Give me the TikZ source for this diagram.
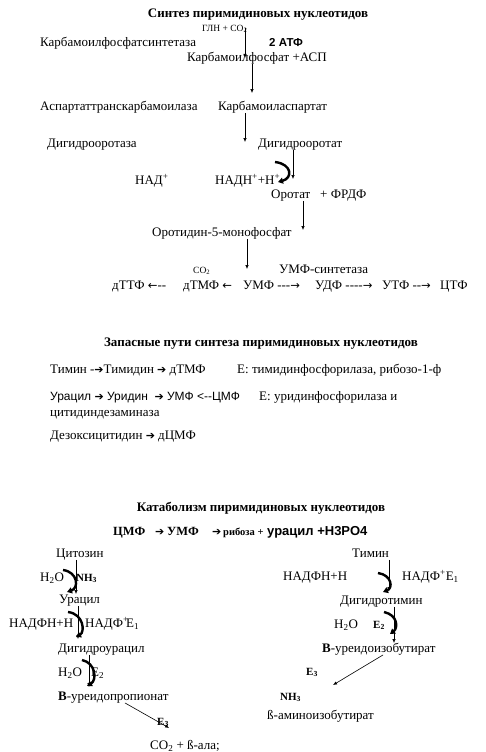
\documentclass[tikz,border=0pt]{standalone}
\usepackage{fontspec}
\newfontfamily\tnr{Liberation Serif}
\newfontfamily\arl{Liberation Sans}
\newfontfamily\dvs{DejaVu Sans}
\newcommand\pr{{\dvs\fontsize{11.5}{12}\selectfont →}}
\newcommand\lv{{\dvs\fontsize{11.5}{12}\selectfont ←}}
\newcommand\tpr{{\dvs\fontsize{11}{12}\selectfont ➔}}
\usetikzlibrary{arrows.meta,calc}
\tikzset{
  tx/.style={anchor=west,inner sep=0pt,text height=9pt,text depth=2.5pt,
    font=\tnr\fontsize{13}{14}\selectfont},
  ax/.style={tx,font=\arl\fontsize{12}{14}\selectfont},
  mal/.style={tx,font=\tnr\fontsize{9.5}{10}\selectfont},
  zag/.style={inner sep=0pt,font=\tnr\fontsize{13}{14}\selectfont\bfseries},
  bx/.style={tx,font=\tnr\bfseries\fontsize{11}{12}\selectfont},
  strel/.style={-{Latex[length=4pt,width=3.4pt]},line width=0.6pt},
  dug/.style={line width=2.4pt,-{Triangle[length=5pt,width=6pt]}},
}

\begin{document}
\begin{tikzpicture}[x=1pt,y=-1pt]
  \useasboundingbox (0,0) rectangle (485,752);
  % sintez
  \node[zag] (t1) at (258,15) {Синтез пиримидиновых нуклеотидов};
  \node[mal] (gln) at (202,28) {ГЛН + СО\textsubscript{2}};
  \node[tx] (kfs) at (40,43) {Карбамоилфосфатсинтетаза};
  \node[ax,font=\arl\bfseries\fontsize{11.5}{14}\selectfont] (atf) at (269,43) {2 АТФ};
  \node[tx] (kf) at (187,58) {Карбамоилфосфат +АСП};
  \node[tx] (atk) at (40,107) {Аспартаттранскарбамоилаза};
  \node[tx] (kasp) at (218,107) {Карбамоиласпартат};
  \node[tx] (dgo) at (47,144) {Дигидрооротаза};
  \node[tx] (dgot) at (258,144) {Дигидрооротат};
  \node[tx] (nad) at (135,181) {НАД\textsuperscript{+}};
  \node[tx] (nadh) at (215,181) {НАДН\textsuperscript{+}+Н\textsuperscript{+}};
  \node[tx] (orot) at (271,195) {Оротат};
  \node[tx] (frdf) at (320,195) {+ ФРДФ};
  \node[tx] (omf) at (152,233) {Оротидин-5-монофосфат};
  \node[mal] (co2) at (193,270) {СО\textsubscript{2}};
  \node[tx] (umfs) at (279,270) {УМФ-синтетаза};
  \node[tx] (dttf) at (112,286) {дТТФ \lv--};
  \node[tx] (dtmf) at (183,286) {дТМФ \lv};
  \node[tx] (umf) at (243,286) {УМФ ---\pr};
  \node[tx] (udf) at (315,286) {УДФ ----\pr};
  \node[tx] (utf) at (382,286) {УТФ --\pr};
  \node[tx] (ctf) at (440,286) {ЦТФ};
  \draw[strel] (gln -| 245,0) -- (kf -| 245,0);
  \draw[strel,shorten >=8pt] (kf.south -| 252,0) -- (kasp.north -| 252,0);
  \draw[strel,shorten >=-4pt] (kasp.south -| 245,0) -- (dgot.north -| 245,0);
  \draw[strel,shorten >=10pt] (dgot.south -| 293,0) -- (orot.north -| 293,0);
  \draw[strel,shorten >=-3pt] (orot.south -| 303,0) -- (omf.north -| 303,0);
  \draw[strel,shorten >=11pt] (omf.south -| 247,0) -- (umf.north -| 247,0);
  \draw[dug] (275,162) .. controls (292,164) and (293,178) .. (278,182);
  % zapasnye puti
  \node[zag] (t2) at (261,344) {Запасные пути синтеза пиримидиновых нуклеотидов};
  \node[tx] (z1) at (50,370) {Тимин -\tpr Тимидин \tpr\ дТМФ};
  \node[tx] (e1) at (237,370) {Е: тимидинфосфорилаза, рибозо-1-ф};
  \node[ax] (z2) at (50,397) {Урацил \tpr\ Уридин \ \tpr\ УМФ <--ЦМФ};
  \node[tx] (e2) at (259,397) {Е: уридинфосфорилаза и};
  \node[tx] (e2b) at (50,413) {цитидиндезаминаза};
  \node[tx] (z3) at (50,436) {Дезоксицитидин \tpr\ дЦМФ};
  % katabolizm
  \node[zag] (t3) at (261,508) {Катаболизм пиримидиновых нуклеотидов};
  \node[bx,font=\tnr\bfseries\fontsize{12.5}{14}\selectfont] (cmf) at (113,532) {ЦМФ};
  \node[bx] (s1) at (155,532) {\tpr};
  \node[bx,font=\tnr\bfseries\fontsize{12.5}{14}\selectfont] (umfk) at (167,532) {УМФ};
  \node[bx] (s2) at (212,532) {\tpr};
  \node[bx,font=\tnr\bfseries\fontsize{10.5}{12}\selectfont] (rib) at (223,532) {рибоза +};
  \node[ax,font=\arl\bfseries\fontsize{13}{14}\selectfont] (k2) at (267,532) {урацил +Н3РО4};
  \node[tx] (cyt) at (56,554) {Цитозин};
  \node[tx] (h2o1) at (40,578) {Н\textsubscript{2}О};
  \node[bx] (nh3a) at (76,578) {NH\textsubscript{3}};
  \node[tx] (urac) at (59,600) {Урацил};
  \node[tx] (nf1) at (9,624) {НАДФН+Н};
  \node[tx] (nfp1) at (85,624) {НАДФ\textsuperscript{+}};
  \node[tx] (ea1) at (126,624) {Е\textsubscript{1}};
  \node[tx] (dgu) at (58,649) {Дигидроурацил};
  \node[tx] (h2o2) at (58,673) {Н\textsubscript{2}О};
  \node[tx] (ea2) at (91,673) {Е\textsubscript{2}};
  \node[tx] (uprop) at (58,697) {\textbf{В}-уреидопропионат};
  \node[bx] (ea3) at (157,722) {Е\textsubscript{3}};
  \node[tx] (ala) at (150,746) {СО\textsubscript{2} + ß-ала;};
  \node[tx] (tim) at (352,554) {Тимин};
  \node[tx] (nf2) at (283,577) {НАДФН+Н};
  \node[tx] (nfp2) at (402,577) {НАДФ\textsuperscript{+}Е\textsubscript{1}};
  \node[tx] (dgt) at (340,601) {Дигидротимин};
  \node[tx] (h2o3) at (334,625) {Н\textsubscript{2}О};
  \node[bx] (eb2) at (373,625) {Е\textsubscript{2}};
  \node[tx] (uizb) at (322,649) {\textbf{В}-уреидоизобутират};
  \node[bx] (eb3) at (306,672) {Е\textsubscript{3}};
  \node[bx] (nh3b) at (280,697) {NH\textsubscript{3}};
  \node[tx] (aib) at (267,716) {ß-аминоизобутират};
  \coordinate (kon) at (333,685);
  \draw[strel] (cyt.south -| 76,0) -- (urac.north -| 76,0);
  \draw[strel,shorten >=4pt] (urac.south -| 78,0) -- (dgu.north -| 78,0);
  \draw[strel,shorten >=4pt] (dgu.south -| 89,0) -- (uprop.north -| 89,0);
  \draw[strel] (uprop.south -| 125,0) -- (ea3.south east);
  \draw[strel,shorten >=4pt] (tim.south -| 389,0) -- (dgt.north -| 389,0);
  \draw[strel] (dgt.south -| 394,0) -- (uizb.north -| 394,0);
  \draw[strel] (uizb.south -| 383,0) -- (kon);
  \draw[dug] (63,570) .. controls (78,572) and (79,588) .. (67,592);
  \draw[dug] (68,612) .. controls (84,614) and (85,632) .. (76,637);
  \draw[dug] (82,660) .. controls (96,663) and (97,680) .. (87,686);
  \draw[dug] (378,573) .. controls (392,575) and (393,588) .. (383,592);
  \draw[dug] (384,612) .. controls (398,615) and (398,628) .. (390,634);
\end{tikzpicture}
\end{document}
